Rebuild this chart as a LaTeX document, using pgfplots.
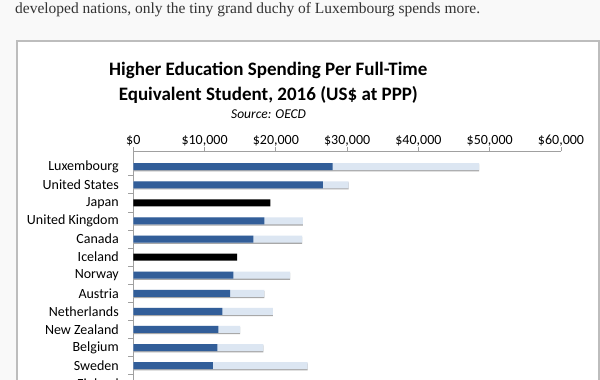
\documentclass[border=0pt]{standalone}
\usepackage{pgfplots}
\pgfplotsset{compat=1.18}
\usepackage{pgfplotstable}
\usepackage{fontspec}
\setmainfont{Carlito}
\newfontfamily\seriffont{Liberation Serif}
\definecolor{darkbar}{HTML}{325E99}
\definecolor{lightbar}{HTML}{DCE6F2}
\definecolor{shadowc}{HTML}{A8A8A8}
\definecolor{pagebg}{HTML}{F9F9F9}
\definecolor{framec}{HTML}{BDBDBD}
\definecolor{axisc}{HTML}{A0A0A0}
\definecolor{bodytext}{HTML}{333333}

\pgfplotstableread{
idx dark light black
0 27950 48500 nan
1 26600 30200 nan
2 nan nan 19240
3 18400 23800 nan
4 16850 23700 nan
5 nan nan 14560
6 14050 22000 nan
7 13580 18400 nan
8 12500 19580 nan
9 11940 14990 nan
10 11800 18260 nan
11 11150 24440 nan
12 10900 16100 nan
}\spend

\begin{document}
\begin{tikzpicture}
\path[use as bounding box] (0,0) rectangle (600pt,-380pt);
\clip (0,0) rectangle (600pt,-380pt);
\fill[pagebg] (0,0) rectangle (600pt,-380pt);
\fill[white] (17pt,-41pt) rectangle (599pt,-400pt);
\draw[framec, line width=1.4pt] (17pt,-400pt) -- (17pt,-41pt) -- (599pt,-41pt) -- (599pt,-400pt);

\node[anchor=base west, inner sep=0pt, text=bodytext] at (15pt,-13.5pt)
  {\resizebox{465pt}{!}{\seriffont developed nations, only the tiny grand duchy of Luxembourg spends more.}};

\node[anchor=base, inner sep=0pt, font=\fontsize{19}{22}\selectfont\bfseries] at (268.3pt,-75.3pt)
  {Higher Education Spending Per Full-Time};
\node[anchor=base, inner sep=0pt, font=\fontsize{19}{22}\selectfont\bfseries] at (268.3pt,-100pt)
  {Equivalent Student, 2016 (US\$ at PPP)};
\node[anchor=base, inner sep=0pt, font=\fontsize{13.5}{16}\selectfont\itshape] at (268.6pt,-118pt)
  {Source: OECD};

\begin{axis}[
  at={(133.3pt,-151pt)}, anchor=north west,
  scale only axis, width=427.7pt, height=241.8pt,
  xmin=0, xmax=60000, ymin=-0.868, ymax=12.5,
  y dir=reverse,
  scaled x ticks=false,
  axis x line*=top, axis y line*=left,
  axis line style={axisc, line width=0.8pt},
  xtick={0,10000,20000,30000,40000,50000,60000},
  xticklabels={\$0,{\$10,000},{\$20,000},{\$30,000},{\$40,000},{\$50,000},{\$60,000}},
  x tick style={axisc, line width=0.8pt},
  x tick label style={font=\fontsize{14}{16}\selectfont, anchor=base, yshift=2.5pt},
  tick align=outside, major tick length=4pt,
  ytick={0,...,12},
  yticklabels={Luxembourg,United States,Japan,United Kingdom,Canada,Iceland,Norway,Austria,Netherlands,New Zealand,Belgium,Sweden,Finland},
  y tick style={draw=none},
  y tick label style={font=\fontsize{14}{16}\selectfont, anchor=east, xshift=-7pt},
  extra y ticks={0.5,1.5,2.5,3.5,4.5,5.5,6.5,7.5,8.5,9.5,10.5,11.5},
  extra y tick labels={},
  extra y tick style={y tick style={draw=axisc, line width=0.8pt}, major tick length=5pt, tick align=outside},
  clip=false,
]
\addplot[xbar, bar width=7pt, bar shift=-1.2pt, fill=shadowc, draw=none] table[x=light, y=idx] {\spend};
\addplot[xbar, bar width=7pt, bar shift=0pt, fill=lightbar, draw=none] table[x=light, y=idx] {\spend};
\addplot[xbar, bar width=7pt, bar shift=0pt, fill=darkbar, draw=none] table[x=dark, y=idx] {\spend};
\addplot[xbar, bar width=7pt, bar shift=0pt, fill=black, draw=none] table[x=black, y=idx] {\spend};
\end{axis}
\end{tikzpicture}
\end{document}
